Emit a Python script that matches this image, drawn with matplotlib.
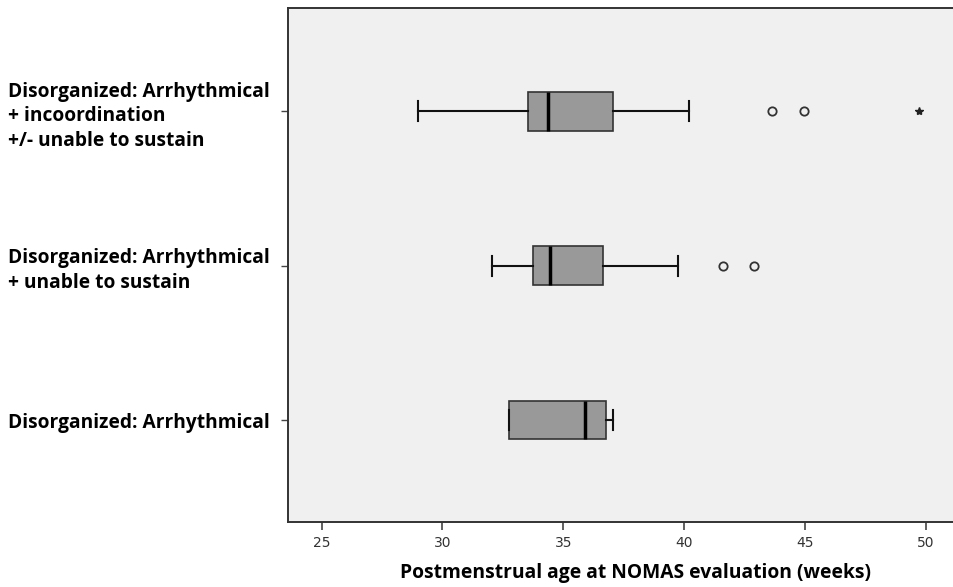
import matplotlib
matplotlib.use("Agg")
import matplotlib.pyplot as plt

# 박스플롯 요약값 (아래에서 위 순서)
groups = [
    "Disorganized: Arrhythmical",
    "Disorganized: Arrhythmical\n+ unable to sustain",
    "Disorganized: Arrhythmical\n+ incoordination\n+/- unable to sustain",
]
whislo = [32.75, 32.05, 29.0]
q1 = [32.75, 33.75, 33.55]
med = [35.9, 34.45, 34.35]
q3 = [36.78, 36.65, 37.07]
whishi = [37.06, 39.75, 40.2]
outliers = [[], [41.6, 42.9], [43.65, 44.95]]
extremes = [[], [], [49.7]]

xticks = [25, 30, 35, 40, 45, 50]
xlabel = "Postmenstrual age at NOMAS evaluation (weeks)"

stats = []
for i in range(len(groups)):
    stats.append({"whislo": whislo[i], "q1": q1[i], "med": med[i], "q3": q3[i],
                  "whishi": whishi[i], "fliers": outliers[i], "label": groups[i]})

fig = plt.figure(figsize=(9.54, 5.87), dpi=100)
ax = fig.add_axes([288 / 954, 1 - 522 / 587, 1 - 288 / 954, (522 - 8) / 587])
ax.set_facecolor("#f0f0f0")

pos = list(range(len(groups)))
ax.bxp(stats, positions=pos, vert=False, widths=0.25, patch_artist=True,
       boxprops=dict(facecolor="#999999", edgecolor="#333333", linewidth=1.2),
       medianprops=dict(color="black", linewidth=2.5),
       whiskerprops=dict(color="#111111", linewidth=1.5),
       capprops=dict(color="#111111", linewidth=1.5),
       capwidths=0.13,
       flierprops=dict(marker="o", markerfacecolor="none", markeredgecolor="#333333",
                       markersize=6, markeredgewidth=1.3))

for i, ex in enumerate(extremes):
    if ex:
        ax.plot(ex, [pos[i]] * len(ex), linestyle="none", marker="*",
                color="#222222", markersize=6)

ax.set_xlim(23.61, 51.16)
ax.set_ylim(-0.66, 2.67)
ax.set_xticks(xticks)
ax.set_xticklabels([str(t) for t in xticks], family=["Liberation Sans Narrow", "DejaVu Sans"],
                   fontsize=10, color="#333333")
ax.tick_params(axis="x", length=6, width=1.2, color="#444444", pad=4)

ax.set_yticks(pos)
ax.set_yticklabels(groups, family=["Open Sans", "DejaVu Sans"], fontweight="bold",
                   fontsize=13.8, ha="left", linespacing=1.3)
ax.tick_params(axis="y", length=5, width=1.0, color="#444444", pad=(288 - 5 - 10) * 0.72)

for s in ["left", "bottom", "top"]:
    ax.spines[s].set_color("#333333")
    ax.spines[s].set_linewidth(1.4)
ax.spines["right"].set_visible(False)

ax.set_xlabel(xlabel, family=["Open Sans", "DejaVu Sans"], fontweight="bold",
              fontsize=13.9)
ax.xaxis.set_label_coords((636 - 288) / 666, -0.08)

fig.savefig("out.png", dpi=100)
